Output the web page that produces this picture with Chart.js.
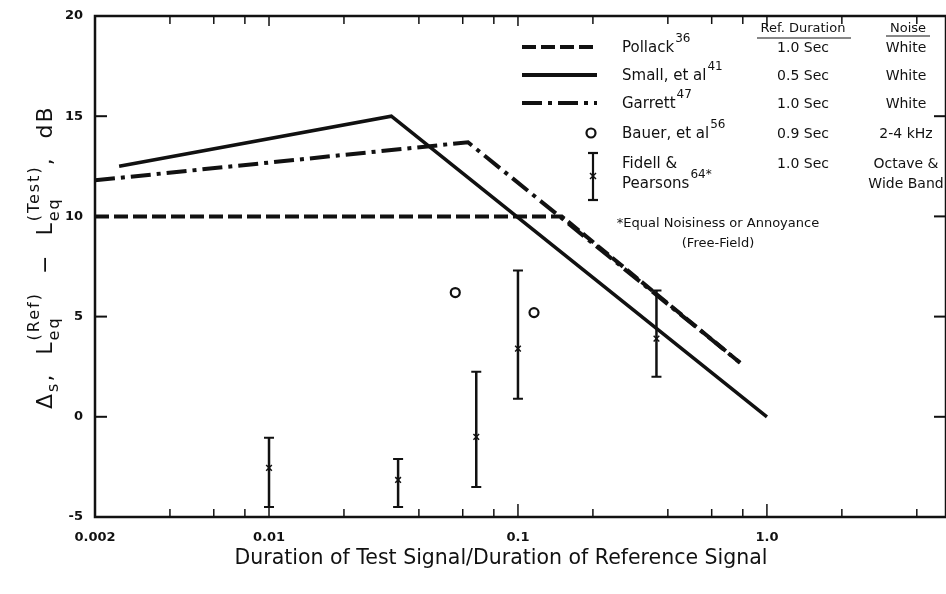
<!DOCTYPE html>
<html>
<head>
<meta charset="utf-8">
<script src="https://cdn.jsdelivr.net/npm/chart.js@4.4.1/dist/chart.umd.min.js"></script>
<style>
  html, body { margin: 0; padding: 0; background: #fff; overflow: hidden; }
  #wrap { width: 946px; height: 594px; }
</style>
</head>
<body>
<div id="wrap"><canvas id="chart" width="946" height="594"></canvas></div>
<script>
// Curves: duration ratio (test/ref) vs level difference in dB
const pollackX = [0.002, 0.15, 0.78];
const pollackY = [10, 10, 2.7];
const smallX = [0.0025, 0.031, 1.0];
const smallY = [12.5, 15, 0];
const garrettX = [0.002, 0.063, 0.78];
const garrettY = [11.8, 13.7, 2.7];

// Bauer, et al - single points
const bauerX = [0.056, 0.116];
const bauerY = [6.2, 5.2];

// Fidell & Pearsons - mean and range
const fidellX = [0.01, 0.033, 0.068, 0.1, 0.36];
const fidellMean = [-2.55, -3.15, -1.0, 3.4, 3.9];
const fidellLow = [-4.5, -4.5, -3.5, 0.9, 2.0];
const fidellHigh = [-1.05, -2.1, 2.25, 7.3, 6.3];

// Axes
const xMin = 0.002, xMax = 5.24;
const xTickValues = [0.002, 0.01, 0.1, 1];
const xTickLabels = ['0.002', '0.01', '0.1', '1.0'];
const xMajorTicks = [0.01, 0.1, 1];
const xMinorTicks = [0.004, 0.006, 0.008, 0.02, 0.04, 0.06, 0.08, 0.2, 0.4, 0.6, 0.8, 2, 4];
const yMin = -5, yMax = 20;
const yInnerTicks = [0, 5, 10, 15];

const FONT = '"DejaVu Sans", sans-serif';
const INK = '#111';

function pts(xs, ys) {
    return xs.map((x, i) => ({ x: x, y: ys[i] }));
}

// error bars for Fidell & Pearsons
const errorBars = {
    id: 'errorBars',
    afterDatasetsDraw(chart) {
        const { ctx, scales: { x, y } } = chart;
        ctx.save();
        ctx.strokeStyle = INK;
        fidellX.forEach((v, i) => {
            const px = x.getPixelForValue(v);
            const lo = y.getPixelForValue(fidellLow[i]);
            const hi = y.getPixelForValue(fidellHigh[i]);
            ctx.lineWidth = 2.5;
            ctx.beginPath();
            ctx.moveTo(px, lo); ctx.lineTo(px, hi);
            ctx.stroke();
            ctx.lineWidth = 2;
            ctx.beginPath();
            ctx.moveTo(px - 5, lo); ctx.lineTo(px + 5, lo);
            ctx.moveTo(px - 5, hi); ctx.lineTo(px + 5, hi);
            ctx.stroke();
        });
        ctx.restore();
    }
};

function seg(ctx, x1, y1, x2, y2) {
    ctx.beginPath();
    ctx.moveTo(x1, y1);
    ctx.lineTo(x2, y2);
    ctx.stroke();
}

function textSup(ctx, base, sup, x, y) {
    ctx.font = '15px ' + FONT;
    ctx.textAlign = 'left';
    ctx.fillText(base, x, y);
    const w = ctx.measureText(base).width;
    ctx.font = '12px ' + FONT;
    ctx.fillText(sup, x + w + 1, y - 10);
}

// frame, inward ticks, axis titles and the legend table
const decorations = {
    id: 'decorations',
    afterDraw(chart) {
        const { ctx, chartArea: a, scales: { x, y } } = chart;
        ctx.save();
        ctx.strokeStyle = INK;
        ctx.fillStyle = INK;

        // frame
        ctx.lineWidth = 2.5;
        ctx.strokeRect(a.left, a.top, a.right - a.left, a.bottom - a.top);

        // ticks
        ctx.lineWidth = 1.5;
        xMajorTicks.forEach(v => {
            const px = x.getPixelForValue(v);
            seg(ctx, px, a.bottom, px, a.bottom - 13);
            seg(ctx, px, a.top, px, a.top + 10);
        });
        xMinorTicks.forEach(v => {
            const px = x.getPixelForValue(v);
            seg(ctx, px, a.bottom, px, a.bottom - 8);
            seg(ctx, px, a.top, px, a.top + 8);
        });
        ctx.lineWidth = 2;
        yInnerTicks.forEach(v => {
            const py = y.getPixelForValue(v);
            seg(ctx, a.left, py, a.left + 12, py);
            seg(ctx, a.right, py, a.right - 12, py);
        });

        // x title
        ctx.font = '20.5px ' + FONT;
        ctx.textAlign = 'center';
        ctx.textBaseline = 'alphabetic';
        ctx.fillText('Duration of Test Signal/Duration of Reference Signal', 501, 564);

        // y title with sub/superscripts
        ctx.save();
        ctx.translate(52, 409);
        ctx.rotate(-Math.PI / 2);
        ctx.textAlign = 'left';
        ctx.letterSpacing = '2px';
        let cx = 0;
        const big = '22px ' + FONT, sm = '16px ' + FONT;
        const put = (t, f, dy) => {
            ctx.font = f;
            ctx.fillText(t, cx, dy);
            return ctx.measureText(t).width;
        };
        cx += put('\u0394', big, 0);
        cx += put('s', sm, 6);
        cx += put(',  L', big, 0);
        let w1 = put('eq', sm, 7), w2 = put('(Ref)', sm, -13);
        cx += Math.max(w1, w2);
        cx += put('  \u2212  L', big, 0);
        w1 = put('eq', sm, 7); w2 = put('(Test)', sm, -13);
        cx += Math.max(w1, w2);
        put(',  dB', big, 0);
        ctx.restore();

        // legend line samples
        ctx.lineWidth = 4;
        ctx.setLineDash([14, 5]);
        seg(ctx, 522, 47, 597, 47);
        ctx.setLineDash([]);
        seg(ctx, 522, 75, 597, 75);
        ctx.setLineDash([20, 6, 4, 6]);
        seg(ctx, 522, 103, 597, 103);
        ctx.setLineDash([]);
        ctx.lineWidth = 2.2;
        ctx.beginPath();
        ctx.arc(591, 133, 4.5, 0, Math.PI * 2);
        ctx.stroke();
        seg(ctx, 593, 153, 593, 200);
        seg(ctx, 588, 153, 598, 153);
        seg(ctx, 588, 200, 598, 200);
        ctx.lineWidth = 1.5;
        seg(ctx, 590, 173, 596, 179);
        seg(ctx, 596, 173, 590, 179);

        // legend names
        textSup(ctx, 'Pollack', '36', 622, 52);
        textSup(ctx, 'Small, et al', '41', 622, 80);
        textSup(ctx, 'Garrett', '47', 622, 108);
        textSup(ctx, 'Bauer, et al', '56', 622, 138);
        ctx.font = '15px ' + FONT;
        ctx.fillText('Fidell &', 622, 168);
        textSup(ctx, 'Pearsons', '64*', 622, 188);

        // columns
        ctx.font = '13px ' + FONT;
        ctx.textAlign = 'center';
        ctx.fillText('Ref. Duration', 803, 32);
        ctx.fillText('Noise', 908, 32);
        ctx.lineWidth = 1.2;
        seg(ctx, 757, 38, 851, 38);
        seg(ctx, 886, 36, 930, 36);
        ctx.font = '14px ' + FONT;
        const refCol = ['1.0 Sec', '0.5 Sec', '1.0 Sec', '0.9 Sec', '1.0 Sec'];
        const noiseCol = ['White', 'White', 'White', '2-4 kHz', 'Octave &'];
        const rowY = [52, 80, 108, 138, 168];
        rowY.forEach((ry, i) => {
            ctx.fillText(refCol[i], 803, ry);
            ctx.fillText(noiseCol[i], 906, ry);
        });
        ctx.fillText('Wide Band', 906, 188);

        // footnote
        ctx.font = '13px ' + FONT;
        ctx.fillText('*Equal Noisiness or Annoyance', 718, 227);
        ctx.fillText('(Free-Field)', 718, 247);
        ctx.restore();
    }
};

const ctx = document.getElementById('chart').getContext('2d');
const chart = new Chart(ctx, {
    type: 'scatter',
    data: {
        datasets: [
            {
                label: 'Pollack',
                data: pts(pollackX, pollackY),
                showLine: true,
                borderColor: INK,
                borderWidth: 4,
                borderDash: [14, 5],
                pointRadius: 0
            },
            {
                label: 'Small, et al',
                data: pts(smallX, smallY),
                showLine: true,
                borderColor: INK,
                borderWidth: 3.5,
                pointRadius: 0
            },
            {
                label: 'Garrett',
                data: pts(garrettX, garrettY),
                showLine: true,
                borderColor: INK,
                borderWidth: 4,
                borderDash: [20, 6, 4, 6],
                pointRadius: 0
            },
            {
                label: 'Bauer, et al',
                data: pts(bauerX, bauerY),
                pointStyle: 'circle',
                pointRadius: 4.5,
                borderWidth: 2.2,
                borderColor: INK,
                backgroundColor: '#fff'
            },
            {
                label: 'Fidell & Pearsons',
                data: pts(fidellX, fidellMean),
                pointStyle: 'crossRot',
                pointRadius: 4,
                borderWidth: 1.5,
                borderColor: INK
            }
        ]
    },
    options: {
        responsive: false,
        animation: false,
        layout: { autoPadding: false, padding: { left: 0, top: 16, right: 0, bottom: 0 } },
        plugins: { legend: { display: false }, tooltip: { enabled: false } },
        scales: {
            x: {
                type: 'logarithmic',
                min: xMin,
                max: xMax,
                grid: { display: false },
                border: { display: false },
                afterBuildTicks: (scale) => {
                    scale.ticks = xTickValues.map(v => ({ value: v }));
                },
                afterFit: (scale) => { scale.height = 77; },
                ticks: {
                    autoSkip: false,
                    maxRotation: 0,
                    padding: 5,
                    color: INK,
                    font: { family: FONT, size: 13, weight: 'bold' },
                    callback: (v) => {
                        const i = xTickValues.indexOf(v);
                        return i >= 0 ? xTickLabels[i] : '';
                    }
                }
            },
            y: {
                min: yMin,
                max: yMax,
                grid: { display: false },
                border: { display: false },
                afterFit: (scale) => {
                    scale.width = 95;
                    scale.paddingTop = 0;
                    scale.paddingBottom = 0;
                },
                ticks: {
                    stepSize: 5,
                    padding: 4,
                    color: INK,
                    font: { family: FONT, size: 13, weight: 'bold' }
                }
            }
        }
    },
    plugins: [errorBars, decorations]
});
</script>
</body>
</html>
